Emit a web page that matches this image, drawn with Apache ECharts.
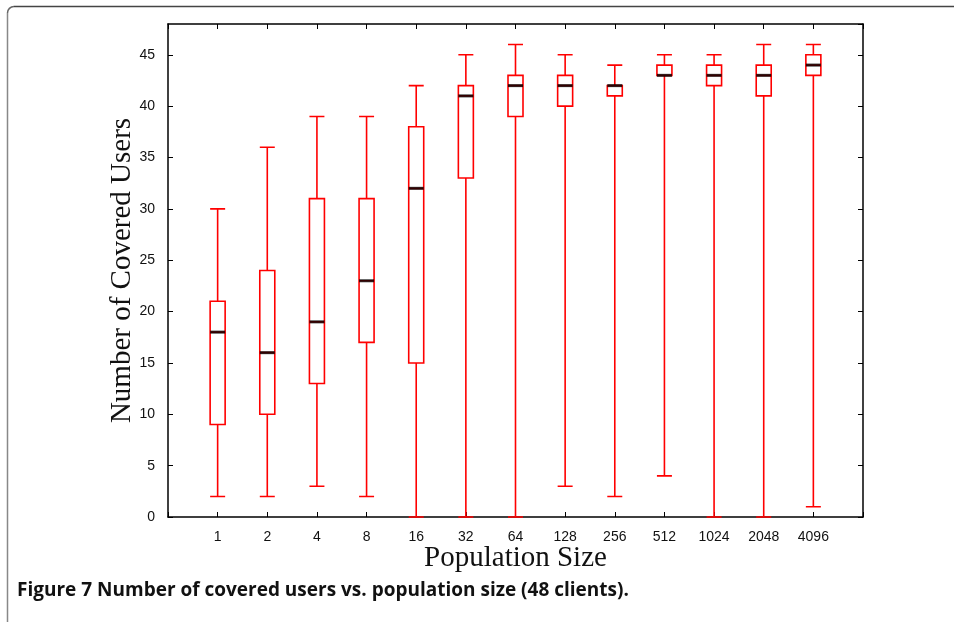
<!DOCTYPE html>
<html>
<head>
<meta charset="utf-8">
<script src="https://cdn.jsdelivr.net/npm/echarts@6/dist/echarts.min.js"></script>
<style>
  html, body { margin: 0; padding: 0; background: #fff; }
  #chart { width: 954px; height: 622px; }
</style>
</head>
<body>
<div id="chart"></div>
<script>
// Population sizes (x categories) and the five-number summary of covered users per size
const populationSizes = ['1', '2', '4', '8', '16', '32', '64', '128', '256', '512', '1024', '2048', '4096'];
const whiskerLow  = [2, 2, 3, 2, 0, 0, 0, 3, 2, 4, 0, 0, 1];
const quartile1   = [9, 10, 13, 17, 15, 33, 39, 40, 41, 43, 42, 41, 43];
const medians     = [18, 16, 19, 23, 32, 41, 42, 42, 42, 43, 43, 43, 44];
const quartile3   = [21, 24, 31, 31, 38, 42, 43, 43, 42, 44, 44, 44, 45];
const whiskerHigh = [30, 36, 39, 39, 42, 45, 46, 45, 44, 45, 45, 46, 46];
const yTicks = [0, 5, 10, 15, 20, 25, 30, 35, 40, 45];

// padded category list so the boxes sit one slot in from each frame edge
const axisCategories = [''].concat(populationSizes, ['']);

const source = populationSizes.map((p, i) => [p, whiskerLow[i], quartile1[i], medians[i], quartile3[i], whiskerHigh[i]]);

const chart = echarts.init(document.getElementById('chart'), null, { renderer: 'canvas' });

const tickFont = { fontFamily: 'Liberation Sans, Arial, sans-serif', fontSize: 14, color: '#111' };
const titleFont = { fontFamily: 'Liberation Serif, Times New Roman, serif', fontSize: 29, color: '#111' };

chart.setOption({
  backgroundColor: '#fff',
  animation: false,
  grid: { left: 168, right: 91, top: 24, bottom: 105, containLabel: false },
  dataset: { source: source, dimensions: ['size', 'min', 'q1', 'median', 'q3', 'max'] },
  xAxis: [
    {
      type: 'category', data: axisCategories, boundaryGap: false, position: 'bottom',
      axisLine: { show: true, onZero: false, lineStyle: { color: '#000', width: 1.5 } },
      axisTick: { show: true, inside: true, length: 5, interval: 0, lineStyle: { color: '#000', width: 1 } },
      axisLabel: Object.assign({ margin: 13, interval: 0 }, tickFont),
      splitLine: { show: false },
      name: 'Population Size', nameLocation: 'middle', nameGap: 27, nameMoveOverlap: false,
      nameTextStyle: titleFont
    },
    {
      type: 'category', data: axisCategories, boundaryGap: false, position: 'top',
      axisLine: { show: true, onZero: false, lineStyle: { color: '#000', width: 1.5 } },
      axisTick: { show: true, inside: true, length: 5, interval: 0, lineStyle: { color: '#000', width: 1 } },
      axisLabel: { show: false }, splitLine: { show: false }
    }
  ],
  yAxis: [
    {
      type: 'value', min: 0, max: 48, interval: 5, position: 'left',
      axisLine: { show: true, onZero: false, lineStyle: { color: '#000', width: 1.5 } },
      axisTick: { show: true, inside: true, length: 5, lineStyle: { color: '#000', width: 1 } },
      axisLabel: Object.assign({ margin: 13, showMaxLabel: false,
        formatter: v => (yTicks.indexOf(v) >= 0 ? String(v) : '') }, tickFont),
      splitLine: { show: false },
      name: 'Number of Covered Users', nameLocation: 'middle', nameGap: 31, nameRotate: 90,
      nameMoveOverlap: false,
      nameTextStyle: titleFont
    },
    {
      type: 'value', min: 0, max: 48, interval: 5, position: 'right',
      axisLine: { show: true, onZero: false, lineStyle: { color: '#000', width: 1.5 } },
      axisTick: { show: true, inside: true, length: 5, lineStyle: { color: '#000', width: 1 } },
      axisLabel: { show: false }, splitLine: { show: false }
    }
  ],
  series: [
    {
      type: 'boxplot',
      xAxisIndex: 0, yAxisIndex: 0,
      encode: { x: 'size', y: ['min', 'q1', 'median', 'q3', 'max'] },
      boxWidth: [15, 15],
      itemStyle: { color: 'rgba(255,255,255,0)', borderColor: '#ff0000', borderWidth: 1.6 },
      emphasis: { disabled: true }
    },
    {
      type: 'scatter',
      xAxisIndex: 0, yAxisIndex: 0,
      encode: { x: 'size', y: 'median' },
      symbol: 'rect', symbolSize: [15, 3],
      itemStyle: { color: '#000' },
      emphasis: { disabled: true },
      z: 5
    }
  ],
  graphic: [
    // page frame: left and top edges joined by a rounded corner
    {
      type: 'line', shape: { x1: 7.5, y1: 622, x2: 7.5, y2: 13 },
      style: { stroke: '#888', lineWidth: 1.5 }
    },
    {
      type: 'arc', shape: { cx: 14, cy: 13, r: 6.5, startAngle: Math.PI, endAngle: Math.PI * 1.5 },
      style: { stroke: '#666', lineWidth: 1.5, fill: null }
    },
    {
      type: 'line', shape: { x1: 14, y1: 6.5, x2: 954, y2: 6.5 },
      style: { stroke: '#444', lineWidth: 1.5 }
    },
    {
      type: 'text', x: 17, y: 591,
      style: {
        text: 'Figure 7 Number of covered users vs. population size (48 clients).',
        font: 'bold 19px "Open Sans", "Noto Sans", sans-serif', fill: '#111',
        verticalAlign: 'middle'
      }
    }
  ]
});
</script>
</body>
</html>
